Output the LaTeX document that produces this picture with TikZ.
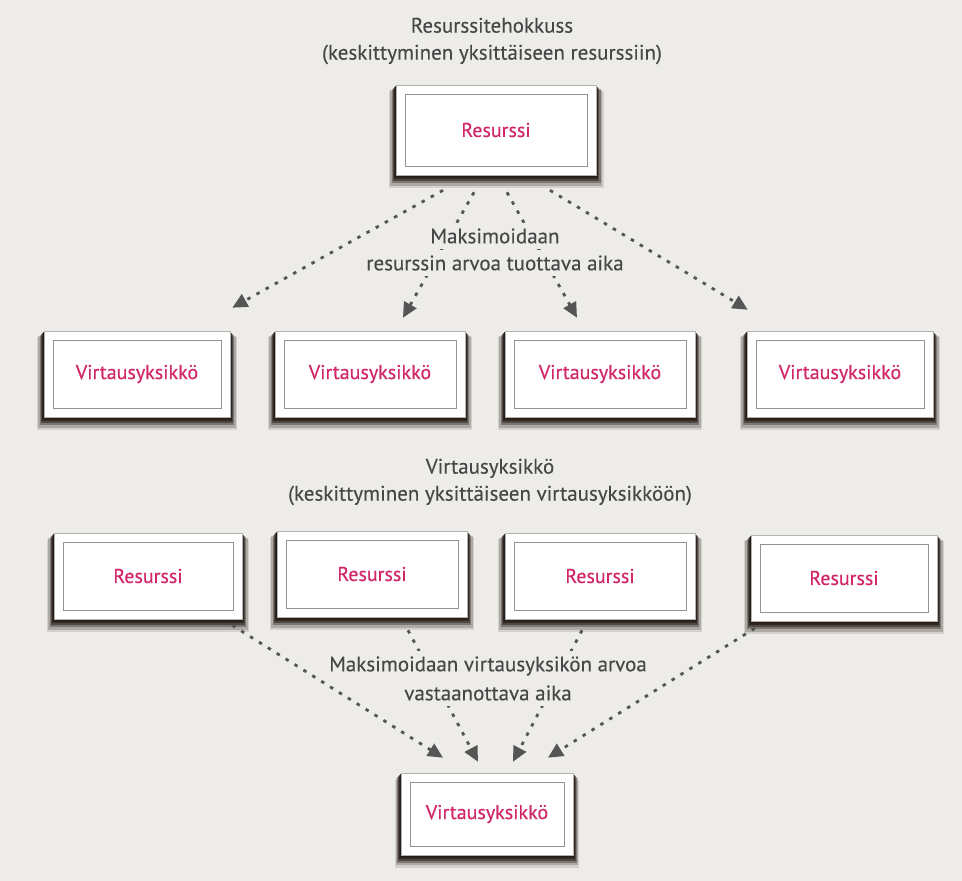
\documentclass[tikz,border=0pt]{standalone}
\usepackage{fontspec}
\setmainfont{PT Sans}[BoldFont={PT Sans}, BoldFeatures={FakeBold=0.35}]
\newfontfamily\captionfont{PT Sans}[FakeBold=0.15]
\usetikzlibrary{arrows.meta,shadows,calc}
\definecolor{paper}{HTML}{EDECE9}
\definecolor{ink}{HTML}{474747}
\definecolor{accent}{HTML}{D12668}
\definecolor{shade}{HTML}{231A14}
\definecolor{dots}{HTML}{555555}

\begin{document}
\begin{tikzpicture}[x=1pt,y=-1pt,
  card/.style={draw=gray!60, line width=0.6pt, fill=white, rectangle, inner sep=0pt,
    font=\fontsize{20}{24}\selectfont\bfseries, text=accent,
    general shadow={fill=shade, opacity=0.12, shadow scale=1.075, shadow yshift=-9pt},
    general shadow={fill=shade, opacity=0.22, shadow scale=1.06, shadow yshift=-7.5pt},
    general shadow={fill=shade, opacity=0.35, shadow scale=1.045, shadow yshift=-6pt},
    general shadow={fill=shade, opacity=0.50, shadow scale=1.03, shadow yshift=-4.5pt},
    general shadow={fill=shade, opacity=0.70, shadow scale=1.018, shadow yshift=-3pt},
    general shadow={fill=shade, opacity=0.85, shadow scale=1.008, shadow yshift=-1.5pt},
    path picture={\draw[gray!85, line width=0.7pt]
      ([shift={(9pt,-9pt)}]path picture bounding box.north west) rectangle
      ([shift={(-9pt,9pt)}]path picture bounding box.south east);}},
  wide/.style={minimum width=190pt, minimum height=86pt},
  caption/.style={text=ink, align=center, font=\fontsize{21}{27}\selectfont\captionfont},
  gap/.style={fill=paper, inner xsep=3pt, inner ysep=5pt},
  flow/.style={dots, line width=2.8pt, dash pattern=on 3.5pt off 7pt,
    -{Triangle[length=15pt,width=14pt]}}
]
% page
\fill[paper] (0,0) rectangle (962,881);
\useasboundingbox (0,0) rectangle (962,881);

% headings
\node[caption] (head1) at (492,41) {Resurssitehokkuss\\(keskittyminen yksittäiseen resurssiin)};
\node[caption] (head2) at (490,482) {Virtausyksikkö\\(keskittyminen yksittäiseen virtausyksikköön)};

% upper group
\node[card, minimum width=200pt, minimum height=90pt] (res0) at (496,130) {Resurssi};
\node[card, minimum width=186pt, minimum height=86pt] (v1) at (137,374) {Virtausyksikkö};
\node[card, wide] (v2) at (370,374) {Virtausyksikkö};
\node[card, wide] (v3) at (600,374) {Virtausyksikkö};
\node[card, minimum width=186pt, minimum height=86pt] (v4) at (840,374) {Virtausyksikkö};

% lower group
\node[card, minimum width=188pt, minimum height=86pt] (r1) at (148,576) {Resurssi};
\node[card, wide] (r2) at (372,574) {Resurssi};
\node[card, wide] (r3) at (600,576) {Resurssi};
\node[card, minimum width=186pt, minimum height=86pt] (r4) at (844,578) {Resurssi};
\node[card, minimum width=172pt, minimum height=82pt] (v5) at (487,814) {Virtausyksikkö};

% dotted connectors, one resource to many flow units
\draw[flow] ($(res0.south)+(-53,15)$) -- ($(v1.north east)+(2,-23)$);
\draw[flow] ($(res0.south)+(-22,17)$) -- ($(v2.north)+(33,-13)$);
\draw[flow] ($(res0.south)+(11,17)$) -- ($(v3.north)+(-23,-13)$);
\draw[flow] ($(res0.south)+(54,15)$) -- ($(v4.north west)+(1,-21)$);

% dotted connectors, many resources to one flow unit
\draw[flow] ($(r1.south east)+(-10,6)$) -- ($(v5.north)+(-44,-15)$);
\draw[flow] ($(r2.south)+(36,13)$) -- ($(v5.north)+(-9,-11)$);
\draw[flow] ($(r3.south)+(-18,11)$) -- ($(v5.north)+(26,-11)$);
\draw[flow] ($(r4.south west)+(4,7)$) -- ($(v5.north)+(61,-15)$);

% captions laid over the connectors, one line each so the gaps stay narrow
\node[caption, gap] (gain1a) at (495,236) {Maksimoidaan};
\node[caption, gap] (gain1b) at (495,263) {resurssin arvoa tuottava aika};
\node[caption, gap] (gain2a) at (488,666) {Maksimoidaan virtausyksikön arvoa};
\node[caption, gap] (gain2b) at (488,693) {vastaanottava aika};
\end{tikzpicture}
\end{document}
